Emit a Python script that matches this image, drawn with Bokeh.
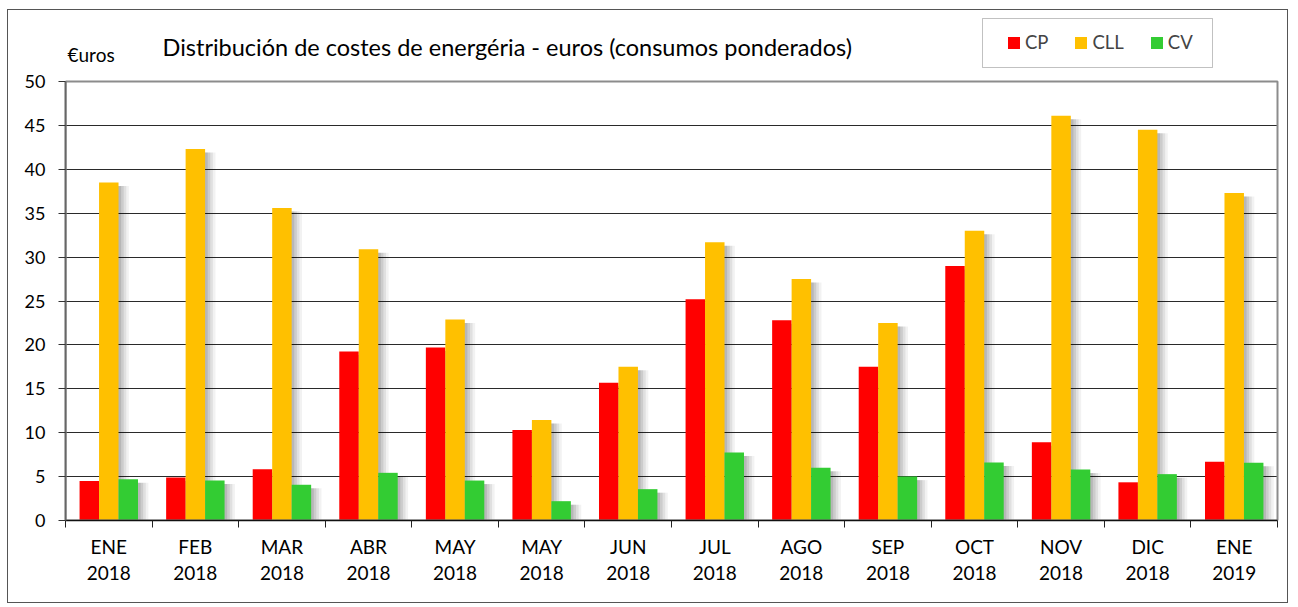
from bokeh.plotting import figure
from bokeh.models import (ColumnDataSource, FixedTicker, Range1d, Legend, LegendItem, Label,
                          BoxAnnotation)
from bokeh.transform import dodge
from bokeh.embed import file_html
from bokeh.resources import INLINE

# ---- data ----
months = ["ENE\n2018", "FEB\n2018", "MAR\n2018", "ABR\n2018", "MAY\n2018", "MAY\n2018",
          "JUN\n2018", "JUL\n2018", "AGO\n2018", "SEP\n2018", "OCT\n2018", "NOV\n2018",
          "DIC\n2018", "ENE\n2019"]
cp = [4.5, 4.9, 5.85, 19.25, 19.7, 10.3, 15.7, 25.2, 22.8, 17.5, 29.0, 8.9, 4.35, 6.7]
cll = [38.5, 42.3, 35.6, 30.9, 22.9, 11.45, 17.5, 31.7, 27.5, 22.5, 33.0, 46.1, 44.5, 37.3]
cv = [4.7, 4.55, 4.07, 5.43, 4.55, 2.2, 3.57, 7.75, 6.0, 5.0, 6.6, 5.8, 5.28, 6.57]
y_ticks = [0, 5, 10, 15, 20, 25, 30, 35, 40, 45, 50]
series = ["CP", "CLL", "CV"]
colors = ["#FF0000", "#FFC000", "#33CC33"]
title_text = "Distribución de costes de energéria - euros (consumos ponderados)"
unit_text = "€uros"

FONT = "Lato"
n = len(months)
idx = list(range(n))
src = ColumnDataSource(dict(idx=idx, CP=cp, CLL=cll, CV=cv))

# geometry (page px): plot area x 65..1277, y 81..520; frame reaches up to y=10
x_lo, x_hi = -0.5, n - 0.5
px_x = (1277 - 65) / n
px_y = (520 - 81) / y_ticks[-1]
x_range = Range1d(x_lo, x_hi + 2 / px_x)
y_range = Range1d(0, y_ticks[-1] + (81 - 10) / px_y)

p = figure(width=1281, height=594, x_range=x_range, y_range=y_range,
           output_backend="svg", toolbar_location=None, title_location=None,
           min_border_left=57, min_border_right=10, min_border_top=0, min_border_bottom=84)
p.styles = {"border": "1px solid #555", "margin-left": "7px", "margin-top": "9px"}
p.outline_line_color = None

# grid
g = p.ygrid[0]
g.ticker = FixedTicker(ticks=y_ticks)
g.grid_line_color = "#2a2a2a"
g.grid_line_width = 1
if "cross_bounds" in g.properties():
    g.cross_bounds = (x_lo, x_hi)
p.xgrid.visible = False

W = 0.225
offsets = [-W, 0.0, W]

# soft shadows
for s, off in zip(series, offsets):
    for dx, a in [(0.03, 0.10), (0.06, 0.09), (0.09, 0.07), (0.12, 0.05)]:
        p.vbar(x=dodge("idx", off + dx), top=dodge(s, -0.4), bottom=0, width=W, source=src,
               fill_color="black", fill_alpha=a, line_color=None)

renderers = []
for s, off, c in zip(series, offsets, colors):
    r = p.vbar(x=dodge("idx", off), top=s, bottom=0, width=W, source=src,
               fill_color=c, line_color=None)
    renderers.append(r)

# plot-area border (gray frame at top / right)
p.quad(left=[x_lo], right=[x_hi], bottom=[0], top=[y_ticks[-1]], fill_color=None,
       line_color="#8c8c8c", line_width=2)

# axes
xa = p.xaxis[0]
xa.ticker = FixedTicker(ticks=idx, minor_ticks=[i - 0.5 for i in range(n + 1)])
xa.major_label_overrides = {i: m for i, m in zip(idx, months)}
xa.bounds = (x_lo, x_hi)
xa.major_tick_out = 0
xa.major_tick_in = 0
xa.minor_tick_out = 7
xa.minor_tick_in = 0
xa.minor_tick_line_color = "#222"
xa.axis_line_color = "#111"
xa.axis_line_width = 1.5
xa.major_label_standoff = 7
xa.major_label_text_font = FONT
xa.major_label_text_font_size = "19px"
xa.major_label_text_color = "black"
xa.major_label_text_line_height = 1.15

ya = p.yaxis[0]
ya.bounds = (0, y_ticks[-1])
ya.ticker = FixedTicker(ticks=y_ticks)
ya.major_tick_out = 7
ya.major_tick_in = 0
ya.minor_tick_line_color = None
ya.major_tick_line_color = "#333"
ya.axis_line_color = "#666"
ya.axis_line_width = 2
ya.major_label_standoff = 13
ya.major_label_text_font = FONT
ya.major_label_text_font_size = "18px"
ya.major_label_text_color = "black"

# legend (box drawn separately)
p.add_layout(BoxAnnotation(left=917, right=1147, bottom=453, top=502,
                           left_units="screen", right_units="screen",
                           bottom_units="screen", top_units="screen",
                           fill_color="white", fill_alpha=1, line_color="#333",
                           line_width=1))
legend = Legend(items=[LegendItem(label=s, renderers=[r]) for s, r in zip(series, renderers)],
                orientation="horizontal", location=(941, 467),
                border_line_color=None, background_fill_alpha=0, padding=13, spacing=25,
                glyph_width=15, glyph_height=15, label_standoff=4, label_height=22,
                label_text_font=FONT, label_text_font_size="18.5px", margin=0)
p.add_layout(legend, "center")

# title and unit
p.add_layout(Label(x=97, y=474, x_units="screen", y_units="screen", text=title_text,
                   text_font=FONT, text_font_size="23.5px", text_baseline="middle",
                   text_color="black"))
p.add_layout(Label(x=2, y=466, x_units="screen", y_units="screen", text=unit_text,
                   text_font=FONT, text_font_size="19px", text_baseline="middle",
                   text_color="black"))

open("out.html", "w").write(file_html(p, INLINE))
